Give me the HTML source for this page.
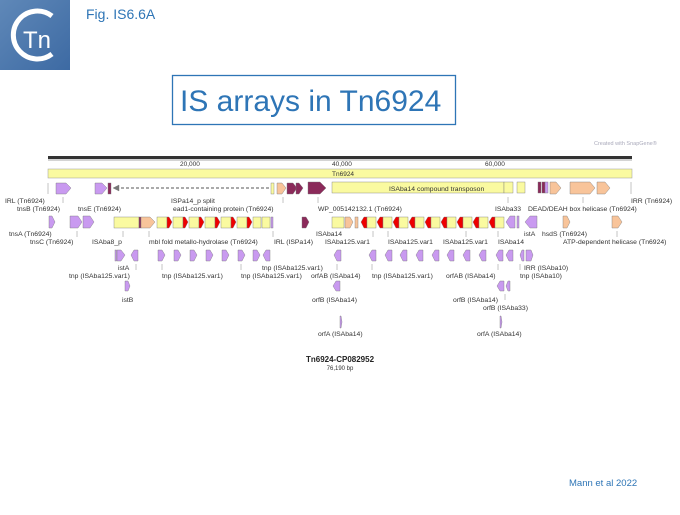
<!DOCTYPE html>
<html><head><meta charset="utf-8"><style>
body{margin:0;background:#fff;width:680px;height:510px;overflow:hidden;font-family:"Liberation Sans",sans-serif}
</style></head><body>
<svg width="680" height="510" xmlns="http://www.w3.org/2000/svg" font-family="Liberation Sans, sans-serif">
<defs>
<linearGradient id="lg" x1="0" y1="0" x2="1" y2="1"><stop offset="0" stop-color="#5f88b8"/><stop offset="1" stop-color="#3d6aa3"/></linearGradient>
</defs>
<rect x="0" y="0" width="70" height="70" fill="url(#lg)"/>
<path d="M52 16 A24 24 0 1 0 52 54" fill="none" stroke="#fff" stroke-width="5"/>
<text x="23" y="48" font-size="24" fill="#fff">Tn</text>
<text x="86" y="19" font-size="14" fill="#2e75b6">Fig. IS6.6A</text>
<rect x="172.5" y="75.5" width="283" height="49" fill="#fff" stroke="#2e75b6" stroke-width="1.3"/>
<text x="180" y="111" font-size="30" fill="#2e75b6">IS arrays in Tn6924</text>
<text x="594" y="145" font-size="5.5" fill="#aab">Created with SnapGene®</text>
<g font-size="6.5" fill="#333">
<rect x="48" y="156" width="584" height="3" fill="#333"/>
<line x1="48" y1="160" x2="632" y2="160" stroke="#aaa"/>
<text x="180" y="166">20,000</text><text x="332" y="166">40,000</text><text x="485" y="166">60,000</text>
<rect x="48" y="169" width="584" height="9" fill="#fafaa0" stroke="#999" stroke-width=".5"/>
<text x="332" y="176">Tn6924</text>
</g>
<g stroke="#777" stroke-width=".4">
<!-- row1 -->
<polygon points="56,183 66,183 71,188 66,194 56,194" fill="#c99af0"/>
<polygon points="95,183 102,183 107,188 102,194 95,194" fill="#c99af0"/>
<rect x="108" y="183" width="3" height="11" fill="#8b2a5a"/>
<polygon points="113,188 119,185 119,191" fill="#777"/>
<line x1="121" y1="188" x2="270" y2="188" stroke="#555" stroke-width="1" stroke-dasharray="3,2"/>
<rect x="271" y="183" width="3" height="11" fill="#fafaa0"/>
<polygon points="277,183 282,183 286,188 282,194 277,194" fill="#f8c49a"/>
<polygon points="287,183 293,183 297,188 293,194 287,194" fill="#8b2a5a"/>
<polygon points="296,183 299,183 303,188 299,194 296,194" fill="#8b2a5a"/>
<polygon points="308,182 320,182 326,188 320,194 308,194" fill="#8b2a5a"/>
<rect x="332" y="182" width="172" height="11" fill="#fafaa0"/>
<rect x="504" y="182" width="9" height="11" fill="#fafaa0"/>
<rect x="517" y="182" width="8" height="11" fill="#fafaa0"/>
<rect x="538" y="182" width="3" height="11" fill="#8b2a5a"/><rect x="542" y="182" width="3" height="11" fill="#8b2a5a"/><rect x="545" y="182" width="3" height="11" fill="#c99af0"/>
<polygon points="550,182 556,182 561,188 556,194 550,194" fill="#f8c49a"/>
<polygon points="570,182 590,182 595,188 590,194 570,194" fill="#f8c49a"/>
<polygon points="597,182 605,182 610,188 605,194 597,194" fill="#f8c49a"/>
<!-- row2 -->
<polygon points="49,216 52,216 55,222 52,228 49,228" fill="#c99af0"/>
<polygon points="70,216 78,216 82,222 78,228 70,228" fill="#c99af0"/>
<polygon points="83,216 90,216 94,222 90,228 83,228" fill="#c99af0"/>
<rect x="114" y="217" width="25" height="11" fill="#fafaa0"/>
<rect x="139" y="217" width="2" height="11" fill="#8b2a5a"/>
<polygon points="141,217 150,217 155,222 150,228 141,228" fill="#f8c49a"/>
<g id="yr">
<rect x="157" y="217" width="10" height="11" fill="#fafaa0"/><polygon points="167,217 169,217 172,222 169,228 167,228" fill="#e00"/>
</g>
<use href="#yr" x="16"/><use href="#yr" x="32"/><use href="#yr" x="48"/><use href="#yr" x="64"/><use href="#yr" x="80"/>
<rect x="253" y="217" width="8" height="11" fill="#fafaa0"/><rect x="262" y="217" width="8" height="11" fill="#fafaa0"/>
<rect x="271" y="217" width="2" height="11" fill="#c99af0"/>
<polygon points="302,217 306,217 309,222 306,228 302,228" fill="#8b2a5a"/>
<rect x="332" y="217" width="12" height="11" fill="#fafaa0"/>
<polygon points="345,217 350,217 353,222 350,228 345,228" fill="#f8c49a"/>
<rect x="355" y="217" width="3" height="11" fill="#f8c49a"/>
<g id="ry">
<polygon points="361,222 364,217 367,217 367,228 364,228" fill="#e00"/><rect x="367" y="217" width="9" height="11" fill="#fafaa0"/>
</g>
<use href="#ry" x="16"/><use href="#ry" x="32"/><use href="#ry" x="48"/><use href="#ry" x="64"/><use href="#ry" x="80"/><use href="#ry" x="96"/><use href="#ry" x="112"/><use href="#ry" x="128"/>
<polygon points="506,222 510,216 515,216 515,228 510,228" fill="#c99af0"/>
<rect x="517" y="216" width="2" height="12" fill="#c99af0"/>
<polygon points="525,222 530,216 537,216 537,228 530,228" fill="#c99af0"/>
<polygon points="563,216 567,216 570,222 567,228 563,228" fill="#f8c49a"/>
<polygon points="612,216 618,216 622,222 618,228 612,228" fill="#f8c49a"/>
<!-- row3 -->
<g fill="#c99af0">
<polygon points="117,250 121,250 125,255 121,261 117,261"/><rect x="115" y="250" width="1.5" height="11"/>
<polygon points="131,255 134,250 138,250 138,261 134,261"/>
<polygon points="158,250 162,250 165,255 162,261 158,261"/>
<polygon points="174,250 178,250 181,255 178,261 174,261"/>
<polygon points="190,250 194,250 197,255 194,261 190,261"/>
<polygon points="206,250 210,250 213,255 210,261 206,261"/>
<polygon points="222,250 226,250 229,255 226,261 222,261"/>
<polygon points="238,250 242,250 245,255 242,261 238,261"/>
<polygon points="253,250 257,250 260,255 257,261 253,261"/>
<polygon points="263,255 266,250 270,250 270,261 266,261"/>
<polygon points="334,255 337,250 341,250 341,261 337,261"/>
<polygon points="369,255 372,250 376,250 376,261 372,261"/>
<polygon points="385,255 388,250 392,250 392,261 388,261"/>
<polygon points="400,255 403,250 407,250 407,261 403,261"/>
<polygon points="416,255 419,250 423,250 423,261 419,261"/>
<polygon points="432,255 435,250 439,250 439,261 435,261"/>
<polygon points="447,255 450,250 454,250 454,261 450,261"/>
<polygon points="463,255 466,250 470,250 470,261 466,261"/>
<polygon points="479,255 482,250 486,250 486,261 482,261"/>
<polygon points="496,255 499,250 503,250 503,261 499,261"/>
<polygon points="506,255 509,250 513,250 513,261 509,261"/>
<polygon points="520,255 522,250 524,250 524,261 522,261"/>
<polygon points="519,250 524,250 526,255 524,261 519,261" transform="translate(7,0)"/>
<polygon points="125,281 128,281 130,286 128,291 125,291"/>
<polygon points="333,286 336,281 340,281 340,291 336,291"/>
<polygon points="497,286 500,281 504,281 504,291 500,291"/>
<polygon points="506,286 508,281 510,281 510,291 508,291"/>
<polygon points="340,316 341,316 342,322 341,328 340,328"/>
<polygon points="500,316 501,316 502,322 501,328 500,328"/>
</g>
</g>
<g stroke="#888" stroke-width=".5">
<line x1="48" y1="183" x2="48" y2="194"/><line x1="631" y1="182" x2="631" y2="194"/>
<line x1="63" y1="197" x2="63" y2="203"/><line x1="283" y1="197" x2="283" y2="203"/>
<line x1="318" y1="197" x2="318" y2="203"/><line x1="508" y1="197" x2="508" y2="203"/>
<line x1="583" y1="197" x2="583" y2="203"/>
<line x1="77" y1="231" x2="77" y2="237"/><line x1="123" y1="231" x2="123" y2="237"/>
<line x1="149" y1="231" x2="149" y2="237"/><line x1="273" y1="231" x2="273" y2="237"/>
<line x1="373" y1="231" x2="373" y2="237"/><line x1="388" y1="231" x2="388" y2="237"/>
<line x1="466" y1="231" x2="466" y2="237"/><line x1="498" y1="231" x2="498" y2="237"/>
<line x1="617" y1="231" x2="617" y2="237"/>
<line x1="136" y1="264" x2="136" y2="270"/><line x1="162" y1="264" x2="162" y2="270"/>
<line x1="241" y1="264" x2="241" y2="270"/><line x1="337" y1="264" x2="337" y2="270"/>
<line x1="372" y1="264" x2="372" y2="270"/><line x1="498" y1="264" x2="498" y2="270"/>
<line x1="520" y1="264" x2="520" y2="270"/>
<line x1="505" y1="294" x2="505" y2="300"/>
</g>
<g font-size="6.8" fill="#333">
<text x="389" y="191">ISAba14 compound transposon</text>
<text x="5" y="203">IRL (Tn6924)</text><text x="17" y="211">tnsB (Tn6924)</text>
<text x="78" y="211">tnsE (Tn6924)</text>
<text x="171" y="203">ISPa14_p split</text><text x="173" y="211">ead1-containing protein (Tn6924)</text>
<text x="318" y="211">WP_005142132.1 (Tn6924)</text>
<text x="495" y="211">ISAba33</text><text x="528" y="211">DEAD/DEAH box helicase (Tn6924)</text>
<text x="631" y="203">IRR (Tn6924)</text>
<text x="9" y="236">tnsA (Tn6924)</text><text x="30" y="244">tnsC (Tn6924)</text>
<text x="92" y="244">ISAba8_p</text>
<text x="149" y="244">mbl fold metallo-hydrolase (Tn6924)</text>
<text x="274" y="244">IRL (ISPa14)</text>
<text x="316" y="236">ISAba14</text><text x="325" y="244">ISAba125.var1</text>
<text x="388" y="244">ISAba125.var1</text><text x="443" y="244">ISAba125.var1</text>
<text x="498" y="244">ISAba14</text>
<text x="524" y="236">istA</text><text x="542" y="236">hsdS (Tn6924)</text>
<text x="563" y="244">ATP-dependent helicase (Tn6924)</text>
<text x="118" y="270">istA</text><text x="69" y="278">tnp (ISAba125.var1)</text>
<text x="162" y="278">tnp (ISAba125.var1)</text><text x="241" y="278">tnp (ISAba125.var1)</text>
<text x="262" y="270">tnp (ISAba125.var1)</text>
<text x="311" y="278">orfAB (ISAba14)</text>
<text x="372" y="278">tnp (ISAba125.var1)</text><text x="446" y="278">orfAB (ISAba14)</text>
<text x="524" y="270">IRR (ISAba10)</text><text x="520" y="278">tnp (ISAba10)</text>
<text x="122" y="302">istB</text>
<text x="312" y="302">orfB (ISAba14)</text>
<text x="453" y="302">orfB (ISAba14)</text><text x="483" y="310">orfB (ISAba33)</text>
<text x="318" y="336">orfA (ISAba14)</text><text x="477" y="336">orfA (ISAba14)</text>
</g>
<text x="340" y="362" font-size="8" font-weight="bold" fill="#222" text-anchor="middle">Tn6924-CP082952</text>
<text x="340" y="370" font-size="6" fill="#333" text-anchor="middle">76,190 bp</text>
<text x="569" y="486" font-size="9.5" fill="#2e75b6">Mann  et al 2022</text>
</svg>
</body></html>
